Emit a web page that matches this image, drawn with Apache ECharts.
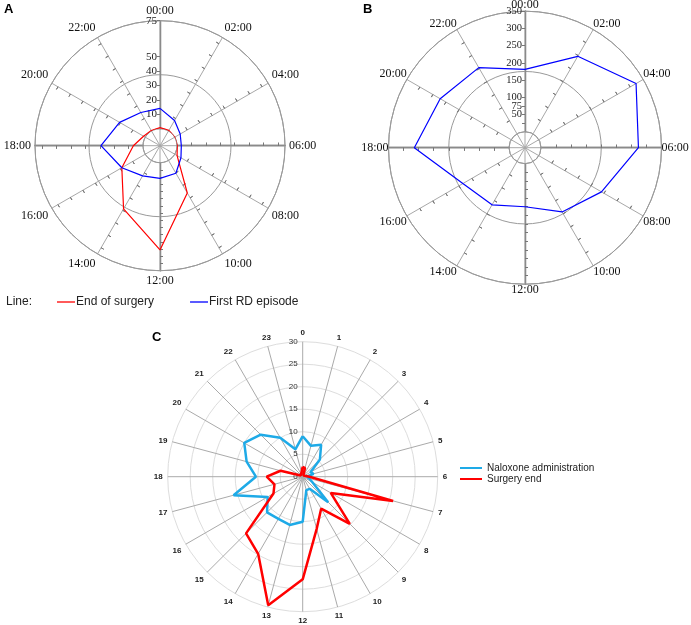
<!DOCTYPE html>
<html><head><meta charset="utf-8">
<script src="https://cdn.jsdelivr.net/npm/echarts@6/dist/echarts.min.js"></script>
<style>html,body{margin:0;padding:0;background:#fff}#c{width:691px;height:625px}</style>
</head><body><div id="c"></div>
<script>
// ---------- data ----------
const hoursAB = [0, 2, 4, 6, 8, 10, 12, 14, 16, 18, 20, 22];
const endOfSurgeryA = [0.7, 0.5, 0, 0.2, 1.9, 26.1, 60.6, 38.8, 18.8, 6.7, 1.4, 0.3];
const firstRdA = [14.1, 8.4, 4.4, 3.0, 5.0, 10.3, 10.9, 12.4, 18.8, 29.2, 20.6, 14.8];
const firstRdB = [181, 260, 326, 283, 210, 169, 125, 145, 162, 275, 238, 222];
const radialLabelsA = [10, 20, 30, 40, 50, 75];
const radialLabelsB = [25, 50, 75, 100, 150, 200, 250, 300, 350];
const spokeTicksA = [10, 20, 30, 40, 50, 60, 70];
const spokeTicksA12 = [5, 10, 15, 20, 25, 30, 35, 40, 45, 50, 55, 60, 65, 70];
const spokeTicksB = [43.75, 87.5, 131.25, 175, 218.75, 262.5, 306.25];
const spokeTicksB12 = [25, 50, 75, 100, 125, 150, 175, 200, 225, 250, 275, 300, 325];
const hoursC = [0,1,2,3,4,5,6,7,8,9,10,11,12,13,14,15,16,17,18,19,20,21,22,23];
const naloxoneC = [9.0, 7.1, 8.2, 5.4, 2.0, 2.5, 1.0, 1.5, 2.5, 8.0, 3.1, 3.1, 10.0, 11.1, 10.8, 11.2, 9.0, 15.9, 10.4, 12.9, 15.0, 13.2, 10.0, 6.3];
const surgeryEndC = [2.2, 2.0, 0.3, 0.3, 0.3, 0.5, 1.5, 20.8, 7.2, 14.8, 8.2, 12.0, 22.8, 29.6, 19.8, 17.8, 7.5, 6.5, 8.0, 5.1, 0.5, 0.3, 0.3, 0.5];
const radialMaxA = 75, radialMaxB = 350, radialMaxC = 30;

// ---------- build ----------
const SERIF = 'Liberation Serif', SANS = 'Liberation Sans';
const polar = [], angleAxis = [], radiusAxis = [], series = [];
function addPolar(p, a, r) {
  const i = polar.length;
  polar.push(p);
  angleAxis.push(Object.assign({ polarIndex: i }, a));
  radiusAxis.push(Object.assign({ polarIndex: i }, r));
  return i;
}
const hh = v => v === 24 ? '' : (v < 10 ? '0' : '') + v + ':00';

function buildClock(center, inner, outer, max, split, labels, ticks, ticks12, labelFont, angleMargin) {
  // main polar (circles, outer ring, hour labels)
  const main = addPolar({ center, radius: [inner, outer] },
    { type: 'value', min: 0, max: 24, interval: 2, startAngle: 90, clockwise: true,
      axisLine: { show: true, lineStyle: { color: '#9a9a9a', width: 1 } },
      axisTick: { show: false }, splitLine: { show: false },
      axisLabel: { formatter: hh, margin: angleMargin, fontFamily: SERIF, fontSize: 12, color: '#111' } },
    { type: 'value', min: 0, max: max, interval: split,
      axisLine: { show: false }, axisTick: { show: false }, axisLabel: { show: false },
      splitLine: { show: true, lineStyle: { color: '#9a9a9a', width: 1 } } });
  // spokes through center
  addPolar({ center, radius: [0, outer] },
    { type: 'value', min: 0, max: 24, interval: 2, startAngle: 90, clockwise: true,
      axisLine: { show: false }, axisTick: { show: false }, axisLabel: { show: false },
      splitLine: { show: true, lineStyle: { color: '#a8a8a8', width: 1 } } },
    { type: 'value', min: 0, max: max, show: false });
  // ticks on each spoke (both sides)
  for (let k = 0; k < 12; k++) {
    const cardinal = k % 3 === 0;
    const tv = k === 0 ? labels : (k === 6 ? ticks12 : ticks);
    for (const inside of [false, true]) {
      addPolar({ center, radius: [inner, outer] },
        { type: 'value', min: 0, max: 24, startAngle: 90 - 30 * k, show: false },
        { type: 'value', min: 0, max: max,
          axisLine: { show: cardinal, lineStyle: { color: '#8a8a8a', width: 1.3 } },
          axisTick: { show: true, customValues: tv, length: 3, inside: inside, lineStyle: { color: '#777', width: 1 } },
          axisLabel: (k === 0 && !inside) ? { show: true, customValues: labels, margin: 3, fontFamily: SERIF, fontSize: labelFont, color: '#222' } : { show: false },
          splitLine: { show: false } });
    }
  }
  return main;
}

const pA = buildClock([160, 145.7], 17, 125, radialMaxA, 37.5, radialLabelsA, spokeTicksA, spokeTicksA12, 11, 4);
const pB = buildClock([525, 147.7], 16, 136.5, radialMaxB, 175, radialLabelsB, spokeTicksB, spokeTicksB12, 10.5, 0);

const pC = addPolar({ center: [302.7, 476.7], radius: [0, 135] },
  { type: 'value', min: 0, max: 24, interval: 1, startAngle: 90, clockwise: true,
    axisLine: { show: false }, axisTick: { show: false },
    splitLine: { show: true, lineStyle: { color: '#aaaaaa', width: 1 } },
    axisLabel: { formatter: v => v === 24 ? '' : String(v), margin: 5, fontFamily: SANS, fontSize: 8, fontWeight: 'bold', color: '#222' } },
  { type: 'value', min: 0, max: radialMaxC, interval: 5,
    axisLine: { show: false }, axisTick: { show: false },
    axisLabel: { show: true, margin: 5, fontFamily: SANS, fontSize: 8, color: '#333' },
    splitLine: { show: true, lineStyle: { color: '#dddddd', width: 1 } } });

function loop(vals, hours, full) {
  const d = hours.map((h, i) => [vals[i], h]);
  d.push([vals[0], full]);
  return d;
}
series.push({ name: 'End of surgery', type: 'line', coordinateSystem: 'polar', polarIndex: pA,
  data: loop(endOfSurgeryA, hoursAB, 24), showSymbol: false, symbol: 'none', lineStyle: { color: '#ff0000', width: 1.2 }, itemStyle: { color: '#ff0000' }, z: 5 });
series.push({ name: 'First RD episode', type: 'line', coordinateSystem: 'polar', polarIndex: pA,
  data: loop(firstRdA, hoursAB, 24), showSymbol: false, symbol: 'none', lineStyle: { color: '#0000ff', width: 1.2 }, itemStyle: { color: '#0000ff' }, z: 5 });
series.push({ name: 'First RD episode', type: 'line', coordinateSystem: 'polar', polarIndex: pB,
  data: loop(firstRdB, hoursAB, 24), showSymbol: false, symbol: 'none', lineStyle: { color: '#0000ff', width: 1.2 }, itemStyle: { color: '#0000ff' }, z: 5 });
series.push({ name: 'Naloxone administration', type: 'line', coordinateSystem: 'polar', polarIndex: pC,
  data: loop(naloxoneC, hoursC, 24), showSymbol: false, symbol: 'none', lineStyle: { color: '#1eaae7', width: 2.5 }, itemStyle: { color: '#1eaae7' }, z: 5 });
series.push({ name: 'Surgery end', type: 'line', coordinateSystem: 'polar', polarIndex: pC,
  data: loop(surgeryEndC, hoursC, 24), showSymbol: false, symbol: 'none', lineStyle: { color: '#ff0000', width: 2.5 }, itemStyle: { color: '#ff0000' }, z: 6 });

const titleStyle = { fontFamily: SANS, fontSize: 13, fontWeight: 'bold', color: '#000' };
const option = {
  animation: false,
  backgroundColor: '#fff',
  title: [
    { text: 'A', left: 4, top: 3, padding: 0, textStyle: titleStyle },
    { text: 'B', left: 363, top: 3, padding: 0, textStyle: titleStyle },
    { text: 'C', left: 152, top: 331, padding: 0, textStyle: titleStyle },
    { text: 'Line:', left: 6, top: 296, padding: 0, textStyle: { fontFamily: SANS, fontSize: 12, fontWeight: 'normal', color: '#222' } }
  ],
  legend: [
    { data: ['End of surgery', 'First RD episode'], left: 57, top: 296, padding: 0, orient: 'horizontal',
      icon: 'rect', itemWidth: 18, itemHeight: 1.3, itemGap: 36, selectedMode: false,
      textStyle: { fontFamily: SANS, fontSize: 12, color: '#222', padding: [0, 0, 0, -4] } },
    { data: ['Naloxone administration', 'Surgery end'], left: 460, top: 463, padding: 0, orient: 'vertical',
      icon: 'rect', itemWidth: 22, itemHeight: 2, itemGap: 1, selectedMode: false,
      textStyle: { fontFamily: SANS, fontSize: 10, color: '#222' } }
  ],
  polar, angleAxis, radiusAxis, series
};
const chart = echarts.init(document.getElementById('c'));
chart.setOption(option);
</script>
</body></html>
